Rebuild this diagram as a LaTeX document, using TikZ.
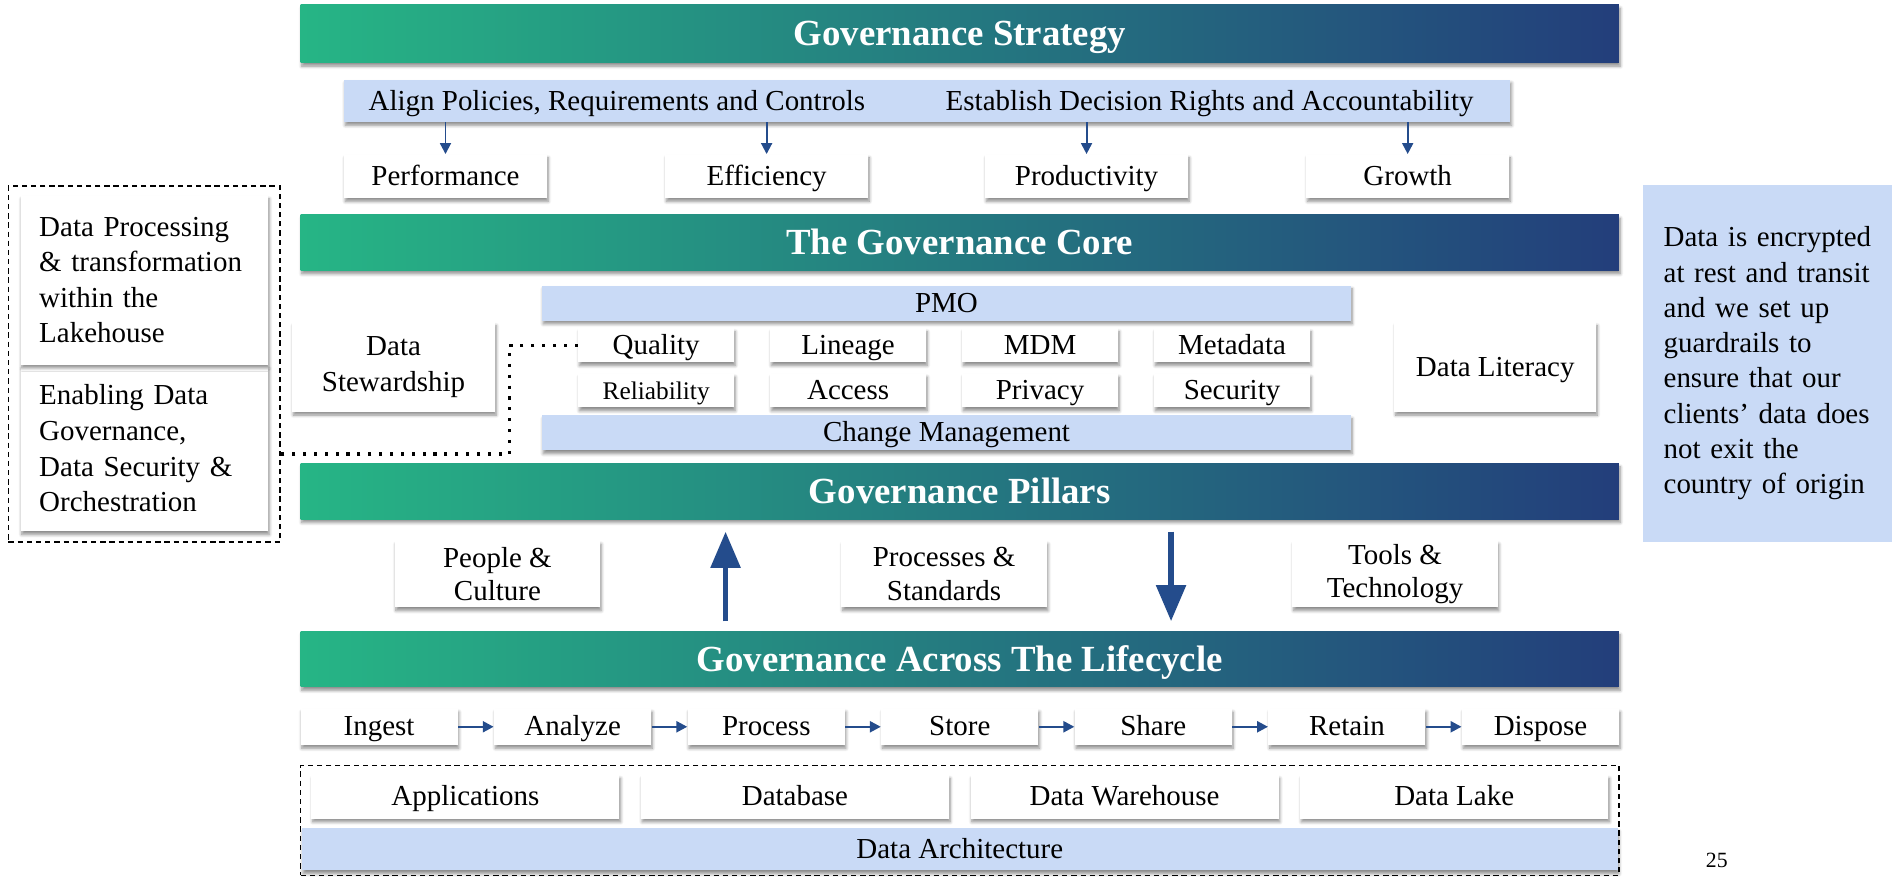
\documentclass[tikz,border=0pt]{standalone}
\usepackage{fontspec}
\setmainfont{Liberation Serif}
\usetikzlibrary{shadows.blur,arrows.meta}
\definecolor{gL}{RGB}{38,181,133}
\definecolor{gR}{RGB}{35,62,123}
\definecolor{lb}{RGB}{201,218,246}
\definecolor{ab}{RGB}{36,76,140}
\begin{document}
\begin{tikzpicture}[x=0.5pt,y=-0.5pt,
  shd/.style={blur shadow={shadow xshift=0.5pt,shadow yshift=-1.4pt,shadow blur radius=1.3pt,shadow blur steps=6,shadow opacity=45}},
  hdr/.style={shd,left color=gL,right color=gR,draw=none,text=white,
    font=\fontsize{15.25}{18}\selectfont\bfseries,minimum width=546pt,minimum height=23pt,inner sep=0pt,
    text height=11.5pt,text depth=1.5pt},
  one/.style={text height=9pt,text depth=1.5pt},
  wbox/.style={shd,fill=white,inner sep=0pt,font=\fontsize{12}{14.5}\selectfont,align=center},
  lbar/.style={shd,fill=lb,inner sep=0pt,font=\fontsize{12}{14.5}\selectfont,one},
  txt/.style={inner sep=0pt,font=\fontsize{12}{14.5}\selectfont,one},
  rowbox/.style={wbox,one,minimum width=84pt,minimum height=18pt},
  smbox/.style={wbox,one,minimum width=64.5pt,minimum height=14pt},
  pilbox/.style={wbox,minimum width=85pt,minimum height=27.5pt,font=\fontsize{12}{14}\selectfont},
  lcbox/.style={wbox,one,minimum width=65pt,minimum height=15pt},
  arbox/.style={wbox,one,minimum width=127.5pt,minimum height=18pt},
  sarr/.style={draw=ab,line width=0.8pt,-{Triangle[length=4.5pt,width=4.5pt]}},
  larr/.style={draw=ab,line width=1pt,-{Triangle[length=4.5pt,width=4.5pt]}},
  bigarr/.style={draw=ab,line width=2.4pt,-{Triangle[length=15pt,width=12pt]}},
  dashbox/.style={draw=black,line width=0.55pt,dash pattern=on 2.2pt off 1.6pt,inner sep=0pt},
  dotline/.style={draw=black,line width=1.3pt,dash pattern=on 1.3pt off 3.2pt}
]
\useasboundingbox (0,0) rectangle (1568,726.4);

% Strategy
\node[hdr,minimum height=24pt] (strat) at (795,28) {Governance Strategy};
\node[lbar,minimum width=483pt,minimum height=17.5pt] (align) at (768,83.5) {};
\node[txt] (t1) at (511,84) {Align Policies, Requirements and Controls};
\node[txt] (t2) at (1002,84) {Establish Decision Rights and Accountability};
\node[rowbox] (perf) at (369,146) {Performance};
\node[rowbox] (eff) at (635,146) {Efficiency};
\node[rowbox] (prod) at (900,146) {Productivity};
\node[rowbox] (grow) at (1166,146) {Growth};
\draw[sarr] (align.south -| perf.north) -- (perf.north);
\draw[sarr] (align.south -| eff.north) -- (eff.north);
\draw[sarr] (align.south -| prod.north) -- (prod.north);
\draw[sarr] (align.south -| grow.north) -- (grow.north);

% Core
\node[hdr] (core) at (795,201) {The Governance Core};
\node[lbar,minimum width=335pt,minimum height=14.5pt] (pmo) at (784,251) {PMO};
\node[smbox] (qual) at (543.5,286) {Quality};
\node[smbox] (lin) at (702.5,286) {Lineage};
\node[smbox] (mdm) at (861.5,286) {MDM};
\node[smbox] (meta) at (1020.5,286) {Metadata};
\node[smbox,font=\fontsize{10.5}{12}\selectfont] (reli) at (543.5,323.5) {Reliability};
\node[smbox] (acc) at (702.5,323.5) {Access};
\node[smbox] (priv) at (861.5,323.5) {Privacy};
\node[smbox] (sec) at (1020.5,323.5) {Security};
\node[lbar,minimum width=335pt,minimum height=14.5pt] (chg) at (784,358.5) {Change Management};
\node[wbox,minimum width=84pt,minimum height=37pt,font=\fontsize{12}{15}\selectfont] (stew) at (326,304) {Data\\Stewardship};
\node[wbox,one,minimum width=83.5pt,minimum height=37pt] (lit) at (1238.5,304) {Data Literacy};

% Left dashed group
\node[dashbox,minimum width=112.5pt,minimum height=147.5pt] (ldash) at (119.5,301.5) {};
\node[wbox,minimum width=102.5pt,minimum height=68.5pt,text width=87pt,align=left,font=\fontsize{12}{14.75}\selectfont] (lb2) at (119.5,371.5) {Enabling Data\\Governance,\\Data Security \&\\Orchestration};
\node[wbox,minimum width=102.5pt,minimum height=70pt,text width=87pt,align=left,font=\fontsize{12}{14.75}\selectfont] (lb1) at (119.5,232) {Data Processing\\\& transformation\\within the\\Lakehouse};

\coordinate (dcorner) at (422,376);
\draw[dotline] (qual.west) -| (dcorner) -- (dcorner -| ldash.east);

% Right note
\node[fill=lb,inner sep=0pt,minimum width=103pt,minimum height=148pt,text width=86pt,align=left,font=\fontsize{12}{14.6}\selectfont] (enc) at (1464,301) {Data is encrypted\\at rest and transit\\and we set up\\guardrails to\\ensure that our\\clients’ data does\\not exit the\\country of origin};

% Pillars
\node[hdr] (pill) at (795,407) {Governance Pillars};
\node[pilbox] (people) at (412,475.5) {People \&\\Culture};
\node[pilbox] (proc) at (782,475.5) {Processes \&\\Standards};
\node[pilbox] (tools) at (1155.5,475.5) {Tools \&\\Technology};

% Lifecycle
\node[hdr] (life) at (795,546) {Governance Across The Lifecycle};
\coordinate (upx) at (601,480);
\coordinate (dnx) at (970,480);
\draw[bigarr,shorten <=4pt,shorten >=5pt] (upx |- life.north) -- (upx |- pill.south);
\draw[bigarr,shorten <=5pt,shorten >=4pt] (dnx |- pill.south) -- (dnx |- life.north);

\node[lcbox] (ing) at (314,602) {Ingest};
\node[lcbox] (ana) at (474.3,602) {Analyze};
\node[lcbox] (pro) at (634.7,602) {Process};
\node[lcbox] (sto) at (795,602) {Store};
\node[lcbox] (sha) at (955.3,602) {Share};
\node[lcbox] (ret) at (1115.7,602) {Retain};
\node[lcbox] (dis) at (1276,602) {Dispose};
\draw[larr] (ing.east) -- (ana.west);
\draw[larr] (ana.east) -- (pro.west);
\draw[larr] (pro.east) -- (sto.west);
\draw[larr] (sto.east) -- (sha.west);
\draw[larr] (sha.east) -- (ret.west);
\draw[larr] (ret.east) -- (dis.west);

% Architecture
\node[dashbox,minimum width=546pt,minimum height=45.5pt] (bdash) at (795,679.5) {};
\node[arbox] (app) at (385.5,660) {Applications};
\node[arbox] (dbs) at (658.5,660) {Database};
\node[arbox] (dwh) at (931.5,660) {Data Warehouse};
\node[arbox] (dlk) at (1204.5,660) {Data Lake};
\node[lbar,minimum width=545pt,minimum height=17.5pt] (arch) at (795,703.5) {Data Architecture};

\node[inner sep=0pt,font=\fontsize{9}{10}\selectfont] (pg) at (1422,713) {25};
\end{tikzpicture}
\end{document}
